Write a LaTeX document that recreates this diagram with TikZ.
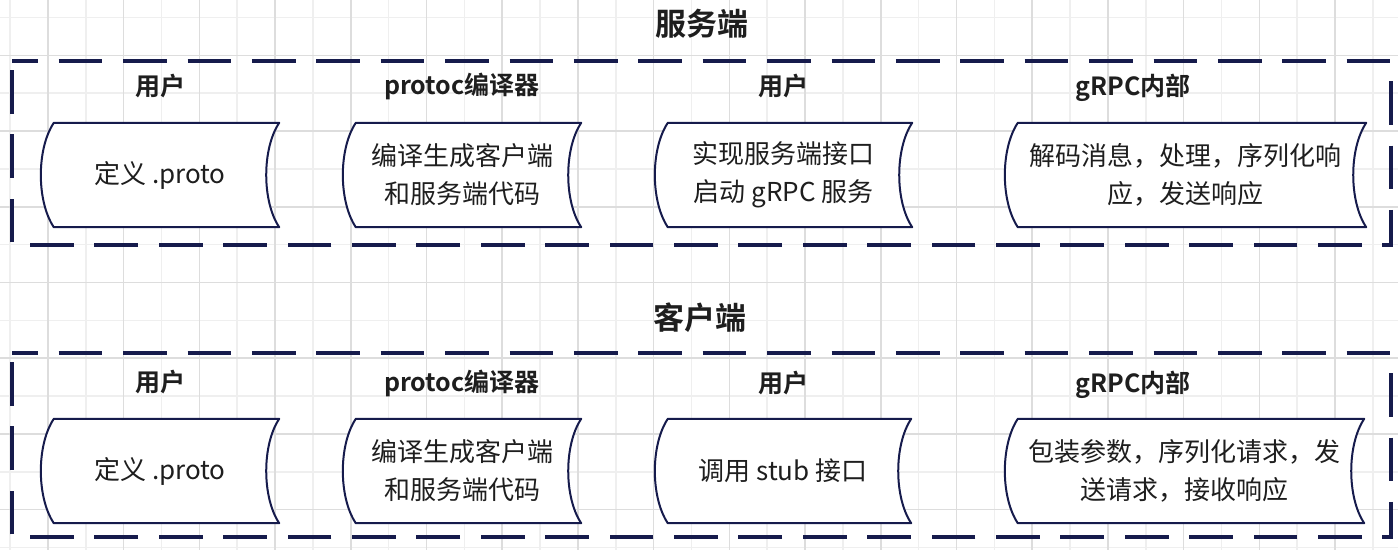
\documentclass[tikz,border=0pt]{standalone}
\usepackage{fontspec}
\setmainfont{Noto Sans CJK SC}[BoldFont={Noto Sans CJK SC Bold}]
\definecolor{navy}{HTML}{161B4C}
\definecolor{gridlight}{HTML}{EFEFEF}
\definecolor{griddark}{HTML}{DDDDDD}
\definecolor{txt}{HTML}{1E1E1E}
\pgfdeclarelayer{bg}
\pgfdeclarelayer{shapes}
\pgfsetlayers{bg,shapes,main}
\tikzset{
  store/.style={minimum height=104, inner sep=0pt, align=center,
    font=\fontsize{26}{38}\selectfont, text=txt},
  storeline/.style={draw=navy, line width=2pt, fill=white, line join=round},
  hdr/.style={font=\fontsize{25}{30}\selectfont\bfseries, text=txt, inner sep=0pt},
  ttl/.style={font=\fontsize{31}{36}\selectfont\bfseries, text=txt, inner sep=0pt},
  grp/.style={draw=navy, line width=3.5pt, dash pattern=on 43.7pt off 20.7pt, dash phase=17.7pt},
  gridl/.style={draw=gridlight, line width=1.6pt},
  gridd/.style={draw=griddark, line width=1.6pt}
}
\newcommand{\storenode}[5]{%
  \node[store, minimum width=#4] (#1) at (#2,#3) {#5};
  \begin{pgfonlayer}{shapes}
  \draw[storeline] ([xshift=13pt]#1.north west) .. controls +(-17.3,26) and +(-17.3,-26) .. ([xshift=13pt]#1.south west) -- (#1.south east) .. controls +(-17.3,-26) and +(-17.3,26) .. (#1.north east) -- cycle;
  \end{pgfonlayer}
}
\begin{document}
\begin{tikzpicture}[x=1pt,y=-1pt]
\useasboundingbox (0,0) rectangle (1398,550);
\begin{pgfonlayer}{bg}
\fill[white] (0,0) rectangle (1398,550);
\foreach \k in {0,2,...,36} { \draw[gridl] ({10+37.86*\k},0) -- ({10+37.86*\k},550); }
\foreach \k in {0,2,...,14} { \draw[gridl] (0,{17.5+37.86*\k}) -- (1398,{17.5+37.86*\k}); }
\foreach \k in {1,3,...,35} { \draw[gridd] ({10+37.86*\k},0) -- ({10+37.86*\k},550); }
\foreach \k in {1,3,...,13} { \draw[gridd] (0,{17.5+37.86*\k}) -- (1398,{17.5+37.86*\k}); }
\end{pgfonlayer}

% server group
\node[ttl] (t1) at (702,24) {服务端};
\draw[grp] (12,61) -- (1391,61) -- (1391,245) -- (12,245) -- cycle;
\node[hdr] (h11) at (160,86) {用户};
\node[hdr] (h12) at (462,86) {protoc编译器};
\node[hdr] (h13) at (783,86) {用户};
\node[hdr] (h14) at (1133,88) {gRPC内部};
\storenode{s1}{160}{175}{238}{定义 .proto}
\storenode{s2}{462}{175}{238}{编译生成客户端\\和服务端代码}
\storenode{s3}{783.5}{175}{257}{实现服务端接口\\启动 gRPC 服务}
\storenode{s4}{1185.5}{175}{361}{解码消息，处理，序列化响\\应，发送响应}

% client group
\node[ttl] (t2) at (700,318) {客户端};
\draw[grp] (12,353) -- (1391,353) -- (1391,537) -- (12,537) -- cycle;
\node[hdr] (h21) at (160,382) {用户};
\node[hdr] (h22) at (462,383) {protoc编译器};
\node[hdr] (h23) at (783,383) {用户};
\node[hdr] (h24) at (1133,385) {gRPC内部};
\storenode{c1}{160}{471}{238}{定义 .proto}
\storenode{c2}{462}{471}{238}{编译生成客户端\\和服务端代码}
\storenode{c3}{783}{471}{256}{调用 stub 接口}
\storenode{c4}{1184.5}{471}{359}{包装参数，序列化请求，发\\送请求，接收响应}
\end{tikzpicture}
\end{document}
